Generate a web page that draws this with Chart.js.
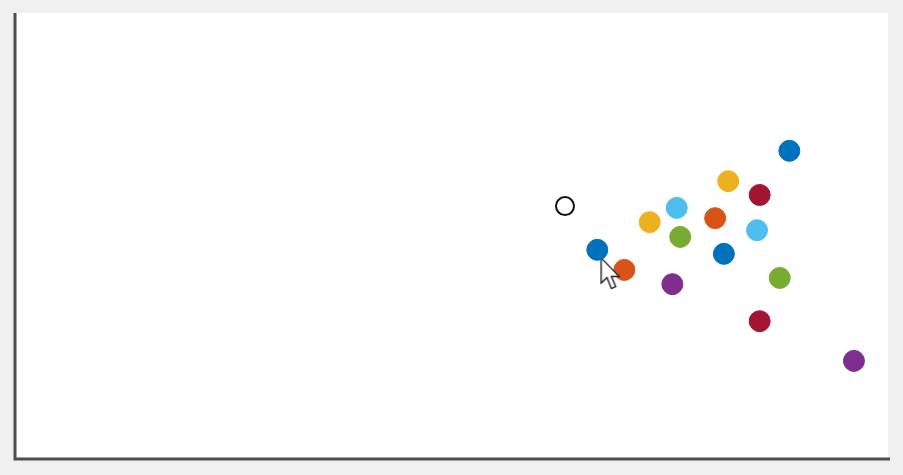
<!DOCTYPE html>
<html>
<head>
<meta charset="utf-8">
<script src="https://cdn.jsdelivr.net/npm/chart.js@4.4.1/dist/chart.umd.min.js"></script>
<style>
  html, body { margin: 0; padding: 0; background: #f0f0f0; }
  #wrap { width: 903px; height: 475px; }
</style>
</head>
<body>
<div id="wrap"><canvas id="grafica" width="903" height="475"></canvas></div>
<script>
// Puntos de cada serie (x, y en unidades del eje, 0..100)
const serieAzul = [[66.7, 46.9], [81.2, 46.0], [88.7, 69.1]];
const serieNaranja = [[69.8, 42.4], [80.2, 54.0]];
const serieAmarilla = [[72.7, 53.1], [81.7, 62.3]];
const serieMorada = [[75.3, 39.2], [96.1, 22.0]];
const serieVerde = [[76.2, 49.8], [87.6, 40.6]];
const serieCeleste = [[75.8, 56.3], [85.0, 51.3]];
const serieGranate = [[85.3, 59.2], [85.3, 30.9]];
const puntoVacio = [[63.0, 56.7]];
const puntero = [[68.3, 41.5]];

const colores = ['#0072BD', '#D95319', '#EDB120', '#7E2F8E', '#77AC30', '#4DBEEE', '#A2142F'];
const series = [serieAzul, serieNaranja, serieAmarilla, serieMorada, serieVerde, serieCeleste, serieGranate];

const aPuntos = arr => arr.map(p => ({ x: p[0], y: p[1] }));

// Flecha del ratón como imagen para pointStyle
function crearPuntero() {
    const c = document.createElement('canvas');
    c.width = 24; c.height = 36;
    const g = c.getContext('2d');
    g.scale(1.55, 1.55);
    g.beginPath();
    g.moveTo(1.2, 1.2);
    g.lineTo(1.2, 17.5);
    g.lineTo(5, 14);
    g.lineTo(7.8, 21);
    g.lineTo(10.6, 19.8);
    g.lineTo(7.8, 13.2);
    g.lineTo(12.8, 13.2);
    g.closePath();
    g.fillStyle = '#ffffff';
    g.fill();
    g.strokeStyle = '#222222';
    g.lineWidth = 0.9;
    g.stroke();
    return c;
}

// Fondo gris, panel blanco y líneas de los ejes
const fondoEjes = {
    id: 'fondoEjes',
    beforeDraw(chart) {
        const ctx = chart.ctx;
        const a = chart.chartArea;
        ctx.save();
        ctx.fillStyle = '#f0f0f0';
        ctx.fillRect(0, 0, chart.width, chart.height);
        ctx.fillStyle = '#ffffff';
        ctx.fillRect(a.left, a.top, a.right - a.left, a.bottom - a.top);
        ctx.restore();
    },
    afterDraw(chart) {
        const ctx = chart.ctx;
        const a = chart.chartArea;
        ctx.save();
        ctx.strokeStyle = '#4d4d4d';
        ctx.lineWidth = 3;
        ctx.beginPath();
        ctx.moveTo(a.left, a.top);
        ctx.lineTo(a.left, a.bottom);
        ctx.lineTo(a.right + 2, a.bottom);
        ctx.stroke();
        ctx.restore();
    }
};

const datasets = series.map((s, i) => ({
    data: aPuntos(s),
    backgroundColor: colores[i],
    borderColor: colores[i],
    borderWidth: 1,
    pointRadius: 10.5,
    order: i === 0 ? -1 : 1
}));

datasets.unshift({
    data: aPuntos(puntoVacio),
    backgroundColor: '#ffffff',
    borderColor: '#111111',
    borderWidth: 2,
    pointRadius: 9,
    order: 1
});

datasets.push({
    data: aPuntos(puntero),
    pointStyle: crearPuntero(),
    pointRadius: 10,
    order: 0
});

new Chart(document.getElementById('grafica'), {
    type: 'scatter',
    data: { datasets: datasets },
    plugins: [fondoEjes],
    options: {
        responsive: false,
        animation: false,
        events: [],
        layout: { padding: { left: 15, top: 13, right: 15, bottom: 16 } },
        plugins: { legend: { display: false }, tooltip: { enabled: false } },
        scales: {
            x: { display: false, min: 0, max: 100 },
            y: { display: false, min: 0, max: 100 }
        }
    }
});
</script>
</body>
</html>
